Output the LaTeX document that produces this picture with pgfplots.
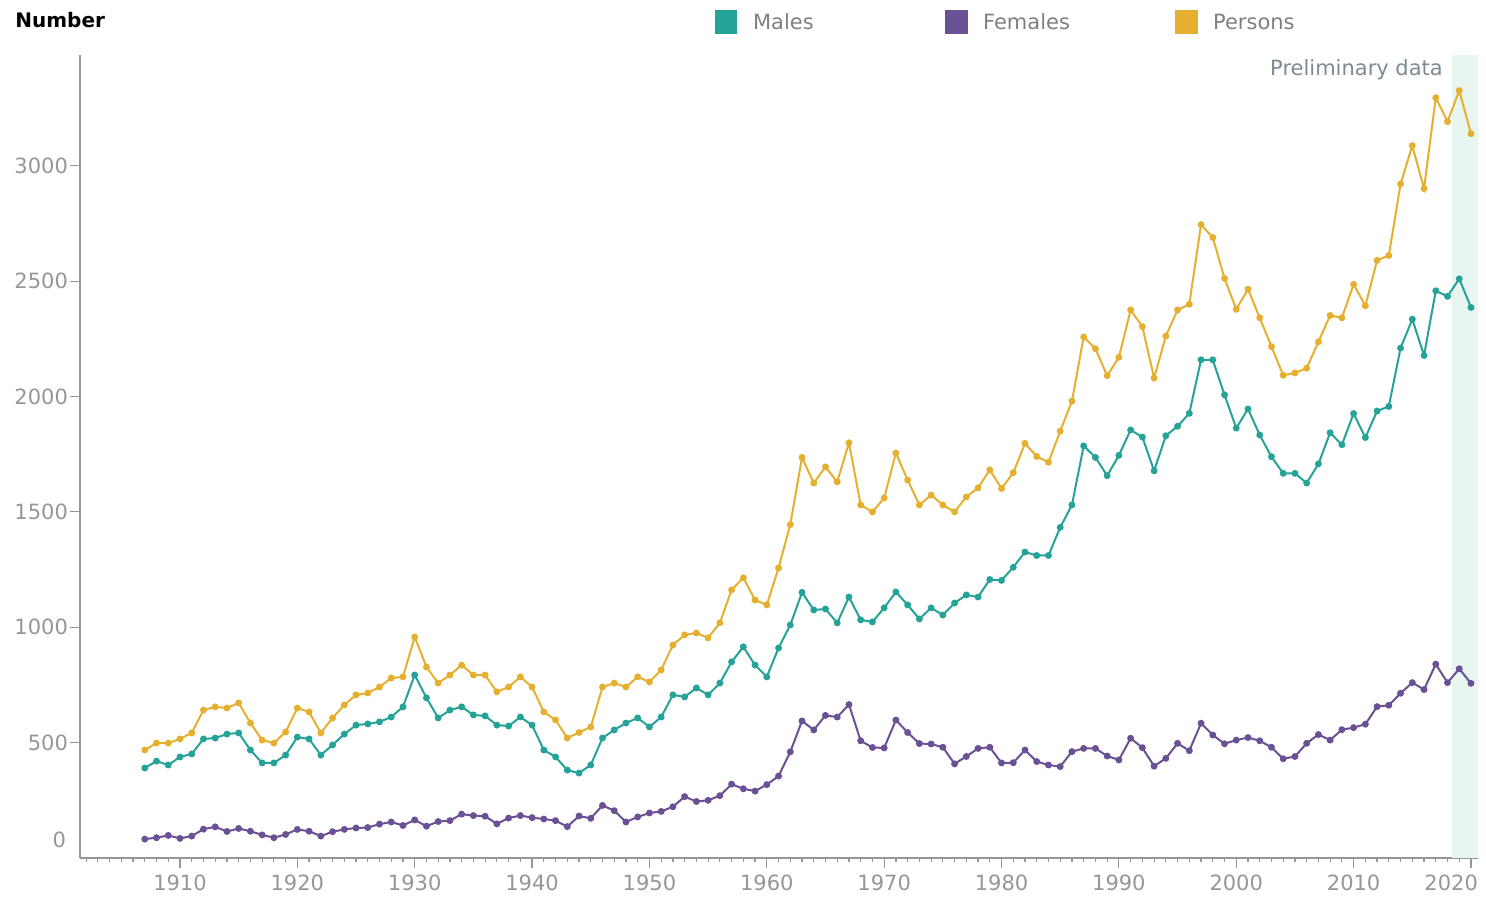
\documentclass[border=0pt]{standalone}
\usepackage{pgfplots}
\usepackage{pgfplotstable}
\pgfplotsset{compat=1.18}
\usepackage{fontspec}
\setmainfont{DejaVu Sans}

\definecolor{males}{RGB}{38,163,152}
\definecolor{females}{RGB}{106,80,148}
\definecolor{persons}{RGB}{229,176,48}
\definecolor{band}{RGB}{232,246,242}
\definecolor{axisgray}{RGB}{150,150,150}
\definecolor{labelgray}{RGB}{150,150,150}
\definecolor{notegray}{RGB}{125,138,148}

% year, males, females, persons
\pgfplotstableread{
year males females persons
1907 390 82 468
1908 420 88 498
1909 403 98 498
1910 438 85 516
1911 451 95 542
1912 516 125 641
1913 520 135 655
1914 537 115 650
1915 542 128 672
1916 468 116 585
1917 412 100 511
1918 412 88 498
1919 446 102 546
1920 524 124 650
1921 516 116 633
1922 446 95 542
1923 490 114 607
1924 537 124 663
1925 576 130 707
1926 581 132 715
1927 590 147 741
1928 611 156 780
1929 655 141 785
1930 793 165 958
1931 694 138 828
1932 607 158 758
1933 641 162 793
1934 655 190 836
1935 620 184 793
1936 616 181 793
1937 576 148 720
1938 572 173 741
1939 611 184 785
1940 576 175 741
1941 468 169 633
1942 438 162 598
1943 381 136 520
1944 368 182 544
1945 403 172 568
1946 520 228 741
1947 555 205 758
1948 585 156 741
1949 607 178 785
1950 568 195 763
1951 611 202 815
1952 707 222 923
1953 698 266 967
1954 737 245 975
1955 707 250 954
1956 758 270 1019
1957 850 320 1162
1958 915 300 1214
1959 836 290 1118
1960 785 318 1097
1961 910 355 1257
1962 1010 460 1445
1963 1151 594 1736
1964 1075 555 1625
1965 1079 618 1695
1966 1019 611 1630
1967 1131 665 1799
1968 1032 508 1530
1969 1023 479 1500
1970 1084 477 1560
1971 1153 598 1755
1972 1097 544 1638
1973 1036 496 1530
1974 1084 494 1573
1975 1053 480 1530
1976 1105 408 1500
1977 1140 440 1565
1978 1131 475 1604
1979 1207 480 1682
1980 1203 412 1601
1981 1260 413 1670
1982 1326 468 1797
1983 1311 418 1740
1984 1311 403 1715
1985 1433 396 1850
1986 1530 461 1980
1987 1786 475 2258
1988 1736 475 2207
1989 1657 442 2090
1990 1745 425 2170
1991 1855 519 2375
1992 1824 478 2303
1993 1678 398 2080
1994 1830 432 2262
1995 1871 497 2375
1996 1927 465 2400
1997 2159 584 2745
1998 2159 533 2689
1999 2007 495 2512
2000 1863 511 2378
2001 1946 522 2465
2002 1833 508 2341
2003 1739 480 2216
2004 1667 430 2092
2005 1667 440 2102
2006 1625 497 2123
2007 1708 535 2237
2008 1843 511 2351
2009 1791 556 2341
2010 1926 565 2486
2011 1822 580 2393
2012 1937 656 2590
2013 1957 662 2611
2014 2210 714 2921
2015 2335 760 3087
2016 2178 730 2901
2017 2458 840 3295
2018 2434 760 3191
2019 2510 820 3326
2020 2386 757 3139
}\deaths

\begin{document}
\begin{tikzpicture}[x=1pt,y=1pt]
% one pixel of the reference is 0.5pt; the axis box sits at (0,0)
\useasboundingbox (-40,-20.5) rectangle (703,429);
\begin{axis}[
  at={(0,0)}, anchor=south west,
  scale only axis,
  width=699pt, height=401.5pt,
  xmin=1901.48, xmax=2020.6,
  ymin=0, ymax=3480,
  axis x line*=bottom,
  axis y line*=left,
  axis line style={axisgray, line width=0.9pt},
  xtick={1910,1920,...,2010},
  minor xtick={1902,1903,...,2020},
  extra x ticks={2020},
  extra x tick style={xticklabel style={anchor=north east, xshift=7pt}},
  ytick={500,1000,...,3000},
  tick align=outside,
  tick style={axisgray, line width=0.6pt},
  major tick length=5pt,
  minor tick length=2pt,
  /pgf/number format/1000 sep={},
  /pgf/number format/assume math mode=true,
  ticklabel style={font=\fontsize{10.5}{12}\selectfont, text=labelgray},
  yticklabel style={xshift=2.5pt},
  clip=false,
]
\fill[band] (axis cs:2018.4,0) rectangle (axis cs:2020.6,3480);
\node[anchor=east, text=notegray, font=\fontsize{10.5}{12}\selectfont]
  at (axis cs:2018.2,3416) {Preliminary data};
\node[anchor=east, text=labelgray, font=\fontsize{10.5}{12}\selectfont]
  at (axis cs:1901.48,0) [xshift=-3.5pt, yshift=9pt] {0};

\addplot[males, line width=1pt, mark=*, mark size=1.2pt]
  table[x=year, y=males] {\deaths};
\addplot[females, line width=1pt, mark=*, mark size=1.2pt]
  table[x=year, y=females] {\deaths};
\addplot[persons, line width=1pt, mark=*, mark size=1.2pt]
  table[x=year, y=persons] {\deaths};
\end{axis}

% title and legend
\node[anchor=west, inner sep=0pt, font=\bfseries\fontsize{10}{12}\selectfont] at (-32.5,419) {Number};
\fill[males] (317.5,412) rectangle (328.5,424);
\node[anchor=west, text=gray, font=\fontsize{10.5}{12}\selectfont] at (333,418) {Males};
\fill[females] (432.5,412) rectangle (444,424);
\node[anchor=west, text=gray, font=\fontsize{10.5}{12}\selectfont] at (448,418) {Females};
\fill[persons] (547.5,412) rectangle (559,424);
\node[anchor=west, text=gray, font=\fontsize{10.5}{12}\selectfont] at (563,418) {Persons};
\end{tikzpicture}
\end{document}
